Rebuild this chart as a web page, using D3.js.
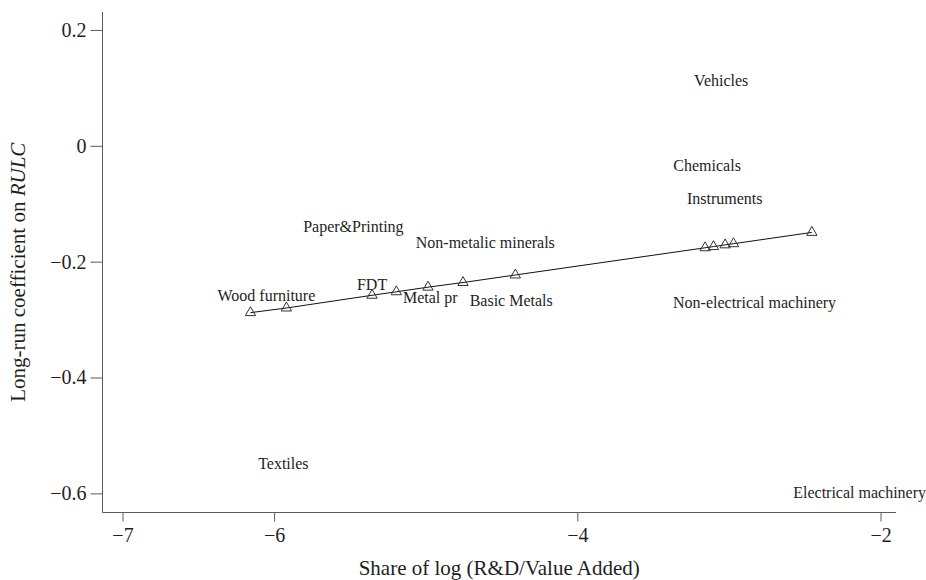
<!DOCTYPE html>
<html>
<head>
<meta charset="utf-8">
<script src="https://cdn.jsdelivr.net/npm/d3@7"></script>
<style>
  html, body { margin: 0; padding: 0; background: #ffffff; }
  svg { display: block; }
  text { font-family: "Liberation Serif", "Times New Roman", serif; fill: #1e1e1e; }
</style>
</head>
<body>
<svg id="chart" width="926" height="580"></svg>
<script>
// R&D intensity (log share) of each sector and the fitted long-run RULC coefficient
const rdShare    = [-6.156, -5.919, -5.354, -5.194, -4.985, -4.754, -4.409, -3.157, -3.102, -3.025, -2.970, -2.453];
const fittedCoef = [-0.288, -0.280, -0.258, -0.252, -0.244, -0.236, -0.223, -0.176, -0.174, -0.171, -0.169, -0.1495];

// Sector names placed at their estimated long-run coefficients
const labelNames = ["Vehicles", "Chemicals", "Instruments", "Paper&Printing", "Non-metalic minerals",
                    "Wood furniture", "FDT", "Metal pr", "Basic Metals", "Non-electrical machinery",
                    "Textiles", "Electrical machinery"];
const labelShare = [-3.051, -3.144, -3.028, -5.477, -4.607, -6.051, -5.354, -4.970, -4.436, -2.831, -5.939, -2.138];
const labelCoef  = [0.113, -0.034, -0.0905, -0.139, -0.166, -0.258, -0.239, -0.261, -0.266, -0.270, -0.549, -0.599];

// Axis ticks
const xTicks = [-7, -6, -4, -2];
const xTickLabels = ["\u22127", "\u22126", "\u22124", "\u22122"];
const yTicks = [0.2, 0, -0.2, -0.4, -0.6];
const yTickLabels = ["0.2", "0", "\u22120.2", "\u22120.4", "\u22120.6"];

const svg = d3.select("#chart");
const plot = { left: 102.5, right: 896, top: 12, bottom: 512.5 };

const x = d3.scaleLinear().domain([-7.132, -1.898]).range([plot.left, plot.right]);
const y = d3.scaleLinear().domain([-0.633, 0.231]).range([plot.bottom, plot.top]);

const axisColor = "#5a5a5a";

// Y axis
const yAxis = svg.append("g")
  .attr("transform", `translate(${plot.left},0)`)
  .call(d3.axisLeft(y).tickValues(yTicks).tickSize(12).tickSizeOuter(0).tickPadding(4)
    .tickFormat((d, i) => yTickLabels[i]));
yAxis.select(".domain").remove();
yAxis.selectAll(".tick line").attr("stroke", axisColor).attr("stroke-width", 1);
yAxis.selectAll(".tick text").style("font-size", "20px").attr("fill", "#1e1e1e")
  .style("font-family", '"Liberation Serif", serif');

// X axis
const xAxis = svg.append("g")
  .attr("transform", `translate(0,${plot.bottom})`)
  .call(d3.axisBottom(x).tickValues(xTicks).tickSize(9).tickSizeOuter(0).tickPadding(6)
    .tickFormat((d, i) => xTickLabels[i]));
xAxis.select(".domain").remove();
xAxis.selectAll(".tick line").attr("stroke", axisColor).attr("stroke-width", 1);
xAxis.selectAll(".tick text").style("font-size", "20px").attr("fill", "#1e1e1e")
  .style("font-family", '"Liberation Serif", serif');

// Axis lines spanning the plot region
svg.append("line")
  .attr("x1", plot.left).attr("x2", plot.left)
  .attr("y1", plot.top).attr("y2", plot.bottom)
  .attr("stroke", axisColor).attr("stroke-width", 1);
svg.append("line")
  .attr("x1", plot.left).attr("x2", plot.right)
  .attr("y1", plot.bottom).attr("y2", plot.bottom)
  .attr("stroke", axisColor).attr("stroke-width", 1);

// Axis titles
svg.append("text")
  .attr("x", (plot.left + plot.right) / 2)
  .attr("y", 575)
  .attr("text-anchor", "middle")
  .style("font-size", "21px")
  .text("Share of log (R&D/Value Added)");

const yTitle = svg.append("text")
  .attr("transform", `translate(25,${(plot.top + plot.bottom) / 2 + 10}) rotate(-90)`)
  .attr("text-anchor", "middle")
  .style("font-size", "21px");
yTitle.append("tspan").text("Long-run coefficient on ");
yTitle.append("tspan").style("font-style", "italic").text("RULC");

// Fitted line through the sectors
const pts = rdShare.map((v, i) => ({ x: v, y: fittedCoef[i] }));
svg.append("path")
  .datum(pts)
  .attr("fill", "none")
  .attr("stroke", "#111")
  .attr("stroke-width", 1)
  .attr("d", d3.line().x(d => x(d.x)).y(d => y(d.y)));

// Hollow triangle markers
svg.append("g").selectAll("path")
  .data(pts)
  .join("path")
  .attr("transform", d => `translate(${x(d.x)},${y(d.y)})`)
  .attr("d", d3.symbol(d3.symbolTriangle, 46))
  .attr("fill", "none")
  .attr("stroke", "#333")
  .attr("stroke-width", 1);

// Sector labels
svg.append("g").selectAll("text")
  .data(labelNames)
  .join("text")
  .attr("x", (d, i) => x(labelShare[i]))
  .attr("y", (d, i) => y(labelCoef[i]))
  .attr("dy", "0.35em")
  .attr("text-anchor", "middle")
  .style("font-size", "16px")
  .text(d => d);
</script>
</body>
</html>
